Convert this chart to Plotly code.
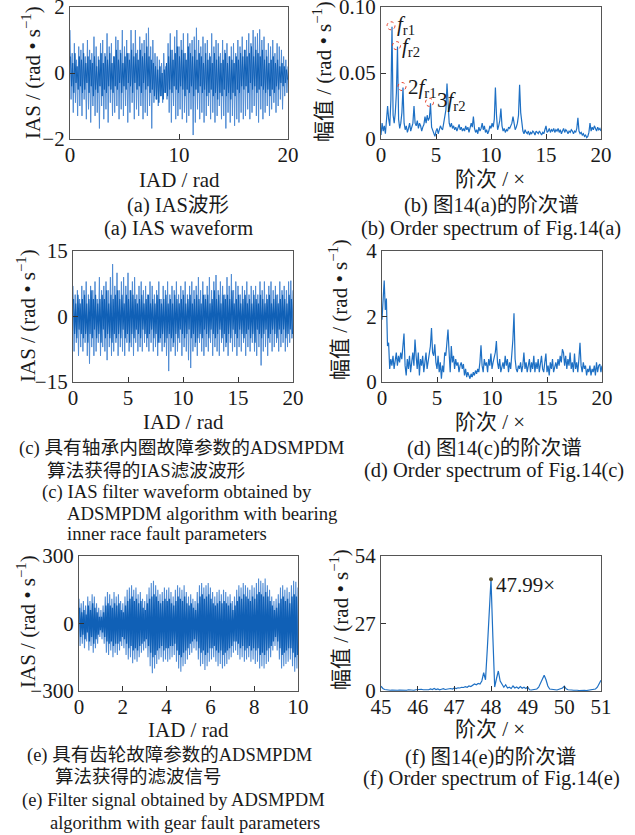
import numpy as np
import plotly.graph_objects as go

W, H = 635, 835
FONT = "Liberation Serif, Noto Sans CJK SC"
BLUE = "rgb(30,112,196)"
BLUE_LIGHT = "rgb(80,140,212)"
BLUE_DARK = "rgb(16,96,182)"
TXT = "#1a1a1a"

# ---------------- data ----------------
# (a) IAS waveform: outer crests (x = 0..20) and troughs (between crests)
ias_a_upper = [1.3, 0.6, 0.9, 0.4, 0.8, 0.7, 0.9, 0.5, 1.0, 0.7,
               0.6, 1.1, 0.8, 0.5, 0.9, 1.0, 0.6, 1.2, 0.8, 0.9,
               0.5, 1.1, 1.0, 0.7, 1.3, 0.8, 1.0, 0.6, 1.3, 0.9,
               1.3, 0.7, 1.1, 0.9, 1.0, 1.2, 1.37, 0.8, 1.0, 0.6,
               0.5, 0.4, 0.3, 0.6, 0.2, 0.9, 1.2, 0.7, 1.1, 1.3,
               0.8, 1.0, 1.2, 0.6, 1.2, 0.9, 1.0, 1.1, 1.37, 1.0,
               0.8, 1.1, 0.9, 1.0, 0.6, 1.2, 0.8, 1.0, 0.9, 0.6,
               1.0, 0.7, 0.9, 0.5, 0.8, 0.9, 0.6, 1.0, 0.8, 1.1,
               0.7, 1.0, 1.2, 0.9, 1.3, 1.1, 1.2, 1.32, 1.0, 1.1,
               0.7, 0.9, 0.8, 1.0, 0.6, 0.9, 0.8, 0.7, 0.5, 0.4,
               0.2]
ias_a_lower = [-0.8, -1.2, -0.9, -1.3, -1.0, -1.3, -0.8, -1.4, -1.1, -1.5,
               -1.0, -1.3, -1.2, -1.68, -1.0, -1.4, -1.1, -1.5, -0.9, -1.3,
               -1.2, -1.0, -1.4, -1.1, -1.3, -1.0, -1.5, -1.2, -0.9, -1.4,
               -1.1, -1.3, -1.0, -1.4, -1.2, -1.3, -1.0, -1.68, -0.9, -0.8,
               -1.0, -0.7, -0.9, -0.6, -0.8, -1.2, -1.5, -1.0, -1.4, -1.3,
               -1.1, -1.4, -1.2, -1.5, -1.3, -1.1, -1.88, -1.5, -1.1, -1.4,
               -1.2, -1.5, -1.3, -1.0, -1.4, -1.2, -1.5, -1.3, -1.0, -1.4,
               -1.3, -1.68, -1.2, -1.5, -1.3, -1.6, -1.4, -1.5, -1.2, -1.4,
               -1.3, -1.1, -1.4, -1.2, -1.0, -1.3, -1.5, -1.1, -1.4, -1.2,
               -1.0, -1.3, -1.1, -0.9, -1.2, -1.0, -0.8, -1.1, -0.7, -0.6]
# (a) dense inner oscillation (dark core band)
core_a_upper = [0.5, 0.3, 0.6, 0.2, 0.5, 0.4, 0.6, 0.3, 0.5, 0.4,
                0.3, 0.5, 0.2, 0.4, 0.6, 0.3, 0.5, 0.4, 0.6, 0.3,
                0.5, 0.7, 0.4, 0.6, 0.3, 0.5, 0.6, 0.4, 0.7, 0.5,
                0.6, 0.4, 0.7, 0.5, 0.6, 0.8, 0.5, 0.4, 0.3, 0.2,
                0.1, 0.2, 0.0, 0.1, 0.3, 0.5, 0.7, 0.4, 0.6, 0.8,
                0.5, 0.7, 0.6, 0.4, 0.8, 0.6, 0.5, 0.7, 0.4, 0.6,
                0.5, 0.3, 0.6, 0.4, 0.5, 0.3, 0.6, 0.4, 0.5, 0.3,
                0.4, 0.6, 0.3, 0.5, 0.4, 0.3, 0.5, 0.4, 0.6, 0.5,
                0.7, 0.5, 0.6, 0.8, 0.5, 0.7, 0.6, 0.5, 0.7, 0.4,
                0.5, 0.3, 0.4, 0.5, 0.3, 0.4, 0.2, 0.3, 0.2, 0.1]
core_a_lower = [-0.4, -0.6, -0.3, -0.5, -0.4, -0.6, -0.5, -0.3, -0.6, -0.4,
                -0.7, -0.5, -0.6, -0.4, -0.7, -0.5, -0.6, -0.4, -0.5, -0.6,
                -0.4, -0.5, -0.3, -0.6, -0.4, -0.5, -0.3, -0.4, -0.6, -0.3,
                -0.5, -0.4, -0.6, -0.3, -0.5, -0.4, -0.6, -0.5, -0.7, -0.8,
                -0.9, -0.7, -0.8, -0.6, -0.7, -0.5, -0.6, -0.4, -0.5, -0.6,
                -0.4, -0.5, -0.7, -0.5, -0.6, -0.4, -0.7, -0.5, -0.6, -0.4,
                -0.6, -0.5, -0.7, -0.6, -0.5, -0.7, -0.6, -0.8, -0.6, -0.7,
                -0.5, -0.7, -0.6, -0.8, -0.6, -0.7, -0.5, -0.6, -0.4, -0.5,
                -0.4, -0.6, -0.3, -0.5, -0.4, -0.6, -0.5, -0.4, -0.5, -0.6,
                -0.5, -0.7, -0.5, -0.6, -0.4, -0.5, -0.3, -0.4, -0.3, -0.2]

# (b) order spectrum of (a), orders 0..20 step 0.1
spec_b = [0.003, 0.012, 0.006, 0.010, 0.004, 0.012, 0.025, 0.015, 0.010, 0.030,
          0.085, 0.018, 0.012, 0.020, 0.035, 0.070, 0.015, 0.008, 0.012, 0.020,
          0.039, 0.012, 0.007, 0.010, 0.005, 0.008, 0.012, 0.006, 0.010, 0.012,
          0.025, 0.012, 0.010, 0.014, 0.008, 0.012, 0.010, 0.006, 0.009, 0.011,
          0.017, 0.012, 0.018, 0.014, 0.016, 0.027, 0.009, 0.006, 0.003, 0.002,
          0.006, 0.008, 0.004, 0.007, 0.010, 0.008, 0.007, 0.012, 0.018, 0.022,
          0.042, 0.020, 0.012, 0.009, 0.012, 0.008, 0.010, 0.007, 0.009, 0.006,
          0.008, 0.011, 0.007, 0.009, 0.006, 0.008, 0.006, 0.010, 0.007, 0.009,
          0.005, 0.008, 0.012, 0.009, 0.017, 0.008, 0.005, 0.007, 0.004, 0.009,
          0.006, 0.008, 0.012, 0.007, 0.010, 0.005, 0.007, 0.004, 0.006, 0.010,
          0.008, 0.012, 0.009, 0.015, 0.039, 0.018, 0.007, 0.010, 0.014, 0.023,
          0.010, 0.006, 0.008, 0.005, 0.007, 0.006, 0.009, 0.008, 0.010, 0.012,
          0.017, 0.010, 0.007, 0.009, 0.012, 0.018, 0.041, 0.020, 0.010, 0.006,
          0.004, 0.007, 0.005, 0.004, 0.006, 0.003, 0.005, 0.004, 0.006, 0.005,
          0.003, 0.006, 0.005, 0.004, 0.006, 0.004, 0.003, 0.005, 0.004, 0.007,
          0.010, 0.005, 0.006, 0.008, 0.005, 0.007, 0.006, 0.008, 0.005, 0.007,
          0.006, 0.008, 0.005, 0.007, 0.004, 0.006, 0.008, 0.005, 0.007, 0.006,
          0.004, 0.006, 0.005, 0.007, 0.006, 0.004, 0.006, 0.005, 0.008, 0.016,
          0.006, 0.004, 0.005, 0.003, 0.004, 0.002, 0.003, 0.001, 0.002, 0.005,
          0.012, 0.006, 0.009, 0.007, 0.010, 0.008, 0.006, 0.009, 0.007, 0.008,
          0.006]
order_b = [round(0.1 * i, 2) for i in range(len(spec_b))]
peak_idx_b = {"fr1": 10, "fr2": 15, "2fr1": 20, "3fr2": 45}

# (c) filtered IAS waveform (bearing inner race)
ias_c_upper = [7, 5, 6, 4, 7, 6, 8, 5, 7, 6,
               8, 4, 9, 6, 7, 8, 6, 9, 12, 7,
               10, 6, 8, 9, 7, 10, 6, 8, 9, 5,
               7, 8, 6, 7, 5, 8, 7, 5, 6, 8,
               4, 7, 6, 8, 5, 7, 6, 8, 5, 7,
               6, 8, 5, 7, 8, 6, 7, 9, 6, 8,
               5, 7, 9, 6, 8, 9.5, 6, 8, 7, 5,
               9, 7, 9.7, 6, 8, 7, 5, 7, 6, 8,
               5, 7, 6, 7, 5, 8, 6, 8, 5, 7,
               8, 6, 7, 5, 8, 6, 7, 6, 8, 8.2,
               6]
ias_c_lower = [-8, -6, -9, -7, -8, -6, -9, -10.8, -7, -9,
               -8, -6, -9, -7, -8, -10, -7, -9, -8, -6,
               -9, -7, -8, -9, -6, -8, -7, -9, -6, -8,
               -7, -8, -6, -7, -8, -6, -8, -7, -9, -6,
               -8, -7, -9, -12.5, -8, -7, -9, -8, -6, -9,
               -7, -8, -10, -11.8, -8, -7, -9, -6, -8, -9,
               -7, -8, -6, -9, -7, -8, -9, -6, -8, -7,
               -9, -6, -8, -7, -9, -7, -8, -6, -9, -7,
               -8, -6, -8, -9, -7, -11.2, -8, -7, -9, -6,
               -8, -7, -6, -8, -7, -6, -8, -7, -6, -5]
core_c_upper = [4, 3, 5, 3, 4, 5, 3, 4, 6, 4,
                5, 3, 4, 5, 4, 6, 3, 5, 4, 5,
                6, 4, 5, 3, 5, 4, 6, 5, 4, 3,
                4, 5, 3, 4, 5, 3, 4, 3, 5, 4,
                3, 4, 5, 3, 4, 3, 5, 4, 3, 4,
                5, 3, 4, 5, 3, 4, 5, 4, 3, 5,
                4, 5, 3, 4, 6, 4, 5, 3, 5, 4,
                5, 4, 6, 3, 4, 5, 3, 4, 5, 3,
                4, 3, 5, 4, 3, 5, 4, 3, 4, 5,
                3, 4, 5, 3, 4, 5, 4, 3, 5, 4]
core_c_lower = [-4, -5, -3, -4, -5, -4, -6, -4, -5, -3,
                -5, -4, -6, -3, -5, -4, -5, -6, -4, -5,
                -4, -5, -3, -5, -4, -6, -4, -5, -3, -4,
                -5, -3, -4, -5, -4, -3, -5, -4, -6, -5,
                -4, -6, -5, -4, -5, -6, -4, -5, -3, -4,
                -5, -4, -3, -5, -4, -6, -5, -4, -5, -3,
                -4, -5, -3, -4, -5, -4, -3, -5, -4, -6,
                -4, -5, -3, -4, -5, -3, -4, -5, -4, -3,
                -5, -4, -6, -3, -4, -5, -4, -3, -5, -4,
                -3, -4, -5, -3, -4, -3, -5, -4, -3, -4]

# (d) order spectrum of (c), orders 0..20 step 0.1
spec_d = [1.9, 2.6, 3.1, 2.2, 2.55, 1.1, 1.2, 0.4, 0.7, 0.5,
          0.8, 0.4, 0.6, 0.9, 0.5, 0.8, 0.6, 0.9, 0.7, 1.0,
          1.48, 0.5, 0.2, 0.7, 0.4, 0.8, 0.3, 0.6, 0.9, 0.5,
          1.3, 0.8, 0.4, 0.9, 0.2, 0.7, 0.5, 0.8, 0.3, 0.6,
          0.9, 0.4, 0.7, 0.8, 1.1, 1.65, 0.9, 0.8, 1.15, 0.6,
          0.4, 0.8, 0.3, 0.6, 0.1, 0.5, 0.3, 0.9, 0.8, 1.2,
          1.6, 0.9, 0.3, 1.1, 0.6, 0.8, 0.4, 0.7, 0.5, 0.6,
          0.3, 0.5, 0.6, 0.4, 0.55, 0.2, 0.4, 0.15, 0.3, 0.2,
          0.1, 0.25, 0.15, 0.3, 0.2, 0.35, 0.25, 0.4, 0.3, 0.6,
          1.12, 0.5, 0.3, 0.7, 0.5, 0.6, 0.3, 0.7, 0.5, 0.87,
          0.4, 0.6, 0.8, 0.9, 1.25, 0.6, 0.4, 0.7, 0.3, 0.5,
          0.6, 0.4, 0.8, 0.5, 0.7, 0.3, 0.6, 0.4, 0.8, 1.3,
          2.1, 0.7, 0.4, 0.3, 0.5, 0.4, 0.6, 0.3, 0.5, 0.9,
          0.4, 0.6, 0.3, 0.5, 0.7, 0.3, 0.6, 0.4, 0.8, 0.3,
          0.6, 0.4, 0.7, 0.3, 0.5, 0.8, 0.4, 0.3, 0.6, 0.87,
          0.3, 0.5, 0.2, 0.6, 0.4, 0.7, 0.3, 0.5, 0.6, 0.4,
          0.7, 0.5, 0.8, 0.6, 1.0, 0.9, 0.5, 0.8, 0.4, 0.7,
          0.5, 0.9, 0.4, 0.6, 0.3, 0.87, 0.4, 0.6, 0.3, 0.7,
          1.2, 0.5, 0.3, 0.6, 0.4, 0.5, 0.2, 0.4, 0.3, 0.5,
          0.2, 0.4, 0.3, 0.5, 0.2, 0.6, 0.3, 0.5, 0.55, 0.3,
          0.5]
order_d = [round(0.1 * i, 2) for i in range(len(spec_d))]

# (e) filtered signal (gear fault), x = 0..10
ias_e_upper = [110, 90, 100, 80, 120, 100, 130, 120, 90, 70,
               60, 80, 120, 140, 130, 110, 140, 120, 130, 100,
               90, 120, 150, 160, 170, 150, 160, 130, 140, 110,
               100, 130, 160, 180, 190, 170, 150, 130, 140, 160,
               150, 160, 140, 120, 150, 170, 160, 150, 170, 140,
               120, 130, 110, 100, 140, 170, 180, 160, 170, 180,
               160, 140, 120, 140, 150, 130, 150, 140, 120, 130,
               100, 120, 150, 170, 160, 180, 170, 160, 150, 170,
               160, 180, 200, 190, 180, 200, 170, 150, 120, 100,
               110, 130, 160, 170, 150, 160, 140, 170, 190, 185,
               160]
ias_e_lower = [-100, -90, -110, -80, -120, -100, -130, -110, -90, -60,
               -70, -90, -130, -140, -120, -150, -130, -140, -120, -100,
               -110, -140, -160, -150, -177, -160, -170, -150, -130, -120,
               -110, -150, -190, -221, -200, -180, -160, -150, -170, -160,
               -170, -160, -150, -140, -170, -200, -214, -190, -180, -160,
               -140, -130, -110, -120, -160, -190, -180, -207, -190, -170,
               -160, -150, -170, -190, -180, -200, -190, -180, -160, -150,
               -130, -120, -140, -160, -150, -170, -160, -150, -170, -160,
               -180, -170, -200, -190, -200, -180, -170, -150, -120, -100,
               -120, -160, -200, -190, -180, -170, -160, -190, -214, -200]
core_e_upper = [70, 50, 60, 40, 80, 60, 90, 70, 50, 30,
                30, 50, 80, 90, 80, 70, 90, 80, 90, 60,
                50, 80, 100, 110, 120, 100, 110, 90, 100, 70,
                60, 90, 110, 120, 130, 120, 100, 90, 100, 110,
                100, 110, 90, 80, 100, 120, 110, 100, 120, 90,
                80, 90, 70, 60, 90, 120, 130, 110, 120, 130,
                110, 90, 80, 90, 100, 90, 100, 90, 80, 90,
                60, 80, 100, 120, 110, 130, 120, 110, 100, 120,
                110, 130, 140, 130, 120, 140, 120, 100, 80, 60,
                70, 90, 110, 120, 100, 110, 90, 120, 130, 120]
core_e_lower = [-60, -50, -70, -40, -80, -60, -90, -70, -50, -30,
                -40, -60, -80, -90, -80, -100, -90, -90, -80, -60,
                -70, -90, -110, -100, -120, -110, -120, -100, -90, -80,
                -70, -100, -130, -150, -140, -120, -110, -100, -120, -110,
                -110, -100, -100, -90, -120, -140, -150, -130, -120, -110,
                -90, -80, -70, -80, -110, -130, -120, -140, -130, -110,
                -110, -100, -120, -130, -120, -140, -130, -120, -110, -100,
                -80, -80, -90, -110, -100, -120, -110, -100, -120, -110,
                -120, -110, -140, -130, -140, -120, -110, -100, -80, -60,
                -80, -110, -140, -130, -120, -110, -110, -130, -150, -140]

# (f) order spectrum of (e), orders 45..51 step 0.05
spec_f = [1.9, 1.0, 0.6, 0.4, 0.5, 0.3, 0.4, 0.3, 0.5, 0.3,
          0.4, 0.3, 0.5, 0.4, 0.3, 0.5, 0.4, 0.6, 0.3, 0.5,
          0.6, 0.4, 0.7, 0.5, 0.4, 0.6, 0.5, 0.8, 0.6, 1.0,
          0.6, 0.8, 0.5, 0.7, 0.9, 0.6, 0.8, 0.7, 1.0, 0.8,
          1.2, 1.0, 1.3, 1.2, 1.5, 1.4, 1.7, 1.5, 2.0, 1.8,
          2.5, 2.8, 2.5, 3.0, 2.8, 4.0, 7.3, 4.5, 17.0, 31.0,
          44.7, 22.0, 1.6, 5.0, 8.0, 4.0, 3.0, 1.5, 2.5, 1.2,
          1.5, 1.0, 2.0, 1.2, 1.6, 1.0, 1.8, 1.1, 1.5, 1.0,
          1.6, 0.5, 0.4, 0.6, 0.5, 0.8, 1.5, 3.0, 5.0, 6.3,
          4.5, 2.0, 0.8, 0.6, 0.4, 0.5, 0.4, 0.6, 0.8, 1.2,
          1.9, 0.9, 0.5, 0.3, 0.4, 0.3, 0.4, 0.3, 0.2, 0.3,
          0.4, 0.3, 0.2, 0.3, 0.2, 0.3, 0.5, 0.8, 1.5, 2.8,
          4.3]
order_f = [round(45 + 0.05 * i, 2) for i in range(len(spec_f))]
peak_f_idx = 60
peak_f_label = "47.99×"

# ---------------- helpers ----------------
def zigzag(upper, lower, x_end, n_grid, offset=0.0):
    xu = np.linspace(0, x_end, n_grid)
    step = xu[1] - xu[0]
    xs, ys = [], []
    for i, u in enumerate(upper):
        xs.append(xu[i] + offset * step); ys.append(u)
        if i < len(lower):
            xs.append(xu[i] + (offset + 0.5) * step); ys.append(lower[i])
    return xs, ys

def fx(p):
    return p / W

def fy(p):
    return 1 - p / H

fig = go.Figure()

panels = [
    dict(box=(70, 288, 7, 139), xr=[0, 20], yr=[-2, 2], xt=[0, 10, 20], yt=[-2, 0, 2], ytt=["−2", "0", "2"]),
    dict(box=(381, 601, 7, 139), xr=[0, 20], yr=[0, 0.1], xt=[0, 5, 10, 15, 20], yt=[0, 0.05, 0.1], ytt=["0", "0.05", "0.10"]),
    dict(box=(73, 293, 251, 382), xr=[0, 20], yr=[-15, 15], xt=[0, 5, 10, 15, 20], yt=[-15, 0, 15], ytt=["−15", "0", "15"]),
    dict(box=(382, 602, 251, 382), xr=[0, 20], yr=[0, 4], xt=[0, 5, 10, 15, 20], yt=[0, 2, 4], ytt=["0", "2", "4"]),
    dict(box=(79, 298, 556, 691), xr=[0, 10], yr=[-300, 300], xt=[0, 2, 4, 6, 8, 10], yt=[-300, 0, 300], ytt=["−300", "0", "300"]),
    dict(box=(381, 601, 556, 691), xr=[45, 51], yr=[0, 54], xt=[45, 46, 47, 48, 49, 50, 51], yt=[0, 27, 54], ytt=["0", "27", "54"]),
]

layout_axes = {}
for k, p in enumerate(panels, start=1):
    l, r, t, b = p["box"]
    common = dict(showline=True, mirror=True, linecolor="#555555", linewidth=1.3,
                  ticks="inside", ticklen=5, tickwidth=1.2, tickcolor="#333333",
                  showgrid=False, zeroline=False, automargin=False,
                  ticklabeloverflow="allow",
                  tickfont=dict(family=FONT, size=21, color=TXT))
    layout_axes[f"xaxis{k}"] = dict(domain=[fx(l), fx(r)], range=p["xr"], anchor=f"y{k}",
                                    tickvals=p["xt"], ticktext=[str(v) for v in p["xt"]],
                                    ticklabelstandoff=-3, **common)
    layout_axes[f"yaxis{k}"] = dict(domain=[fy(b), fy(t)], range=p["yr"], anchor=f"x{k}",
                                    tickvals=p["yt"], ticktext=p["ytt"], **common)

# waveform traces: outer envelope (lighter) + dense core (darker)
def add_wave(upper, lower, cu, cl, x_end, ax, w_out=1.0, w_in=1.0):
    xo, yo = zigzag(upper, lower, x_end, len(upper))
    fig.add_trace(go.Scatter(x=xo, y=yo, mode="lines", line=dict(color=BLUE_LIGHT, width=w_out),
                             xaxis=f"x{ax}", yaxis=f"y{ax}"))
    xi, yi = zigzag(cu, cl, x_end, len(upper), offset=0.25)
    fig.add_trace(go.Scatter(x=xi, y=yi, mode="lines", line=dict(color=BLUE_DARK, width=w_in),
                             xaxis=f"x{ax}", yaxis=f"y{ax}"))

add_wave(ias_a_upper, ias_a_lower, core_a_upper, core_a_lower, 20, "")
fig.add_trace(go.Scatter(x=order_b, y=spec_b, mode="lines", line=dict(color=BLUE, width=1.2), xaxis="x2", yaxis="y2"))
add_wave(ias_c_upper, ias_c_lower, core_c_upper, core_c_lower, 20, 3, 1.0, 1.2)
fig.add_trace(go.Scatter(x=order_d, y=spec_d, mode="lines", line=dict(color=BLUE, width=1.2), xaxis="x4", yaxis="y4"))
add_wave(ias_e_upper, ias_e_lower, core_e_upper, core_e_lower, 10, 5, 1.1, 1.4)
fig.add_trace(go.Scatter(x=order_f, y=spec_f, mode="lines", line=dict(color=BLUE, width=1.2), xaxis="x6", yaxis="y6"))
fig.add_trace(go.Scatter(x=[order_f[peak_f_idx]], y=[spec_f[peak_f_idx]], mode="markers",
                         marker=dict(color="#5a5030", size=4), xaxis="x6", yaxis="y6"))

annotations = []

def note(text, x, y, size=21, xanchor="center", angle=0):
    annotations.append(dict(text=text, x=fx(x), y=fy(y), xref="paper", yref="paper",
                            showarrow=False, xanchor=xanchor, yanchor="middle", textangle=angle,
                            font=dict(family=FONT, size=size, color=TXT)))

ytitle_ias = "IAS / (rad • s<sup>−1</sup>)"
ytitle_amp = "幅值 / (rad • s<sup>−1</sup>)"
note(ytitle_ias, 32, 73, angle=-90)
note(ytitle_amp, 322, 72, angle=-90)
note(ytitle_ias, 26, 316, angle=-90)
note(ytitle_amp, 338, 310, angle=-90)
note(ytitle_ias, 26, 622, angle=-90)
note(ytitle_amp, 339, 620, angle=-90)

# row 1
note("IAD / rad", 179, 180)
note("(a) IAS波形", 178, 205, size=20.5)
note("(a) IAS waveform", 178, 228, size=20.5)
note("阶次 / ×", 490, 179)
note("(b) 图14(a)的阶次谱", 491, 205, size=20.5)
note("(b) Order spectrum of Fig.14(a)", 491, 228, size=20.5)
# row 2
note("IAD / rad", 183, 422)
note("阶次 / ×", 490, 422)
note("(c) 具有轴承内圈故障参数的ADSMPDM", 17, 448, size=18.7, xanchor="left")
note("算法获得的IAS滤波波形", 45, 470, size=18.7, xanchor="left")
note("(c) IAS filter waveform obtained by", 40, 492, size=18.7, xanchor="left")
note("ADSMPDM algorithm with bearing", 65, 513, size=18.7, xanchor="left")
note("inner race fault parameters", 65, 533, size=18.7, xanchor="left")
note("(d) 图14(c)的阶次谱", 494, 448, size=20.5)
note("(d) Order spectrum of Fig.14(c)", 494, 470, size=20.5)
# row 3
note("IAD / rad", 188, 730)
note("阶次 / ×", 490, 729)
note("(e) 具有齿轮故障参数的ADSMPDM", 25, 755, size=18.5, xanchor="left")
note("算法获得的滤波信号", 53, 777, size=18.5, xanchor="left")
note("(e) Filter signal obtained by ADSMPDM", 20, 800, size=18.5, xanchor="left")
note("algorithm with gear fault parameters", 48, 823, size=18.5, xanchor="left")
note("(f) 图14(e)的阶次谱", 490, 757, size=20.5)
note("(f) Order spectrum of Fig.14(e)", 491, 778, size=20.5)

# peak labels in (b)
labels_b = {"fr1": "<i>f</i><sub>r1</sub>", "fr2": "<i>f</i><sub>r2</sub>",
            "2fr1": "2<i>f</i><sub>r1</sub>", "3fr2": "3<i>f</i><sub>r2</sub>"}
shifts_b = {"fr1": (3, 2), "fr2": (2, 0), "2fr1": (3, 0), "3fr2": (4, 2)}
shapes = []
for key, idx in peak_idx_b.items():
    px, py = order_b[idx], spec_b[idx]
    annotations.append(dict(text=labels_b[key], x=px, y=py, xref="x2", yref="y2", showarrow=False,
                            xanchor="left", yanchor="middle", xshift=shifts_b[key][0], yshift=shifts_b[key][1],
                            font=dict(family=FONT, size=21, color=TXT)))
    shapes.append(dict(type="circle", xref="x2", yref="y2", xsizemode="pixel", ysizemode="pixel",
                       xanchor=px, yanchor=py, x0=-5, x1=3, y0=-3, y1=5,
                       line=dict(color="#e8402a", width=1, dash="dot")))

annotations.append(dict(text=peak_f_label, x=order_f[peak_f_idx], y=spec_f[peak_f_idx], xref="x6", yref="y6",
                        showarrow=False, xanchor="left", yanchor="middle", xshift=3, yshift=-6,
                        font=dict(family=FONT, size=21, color=TXT)))

fig.update_layout(width=W, height=H, margin=dict(l=0, r=0, t=0, b=0, autoexpand=False),
                  paper_bgcolor="white", plot_bgcolor="white", showlegend=False,
                  annotations=annotations, shapes=shapes, **layout_axes)

fig.write_html("out.html")
